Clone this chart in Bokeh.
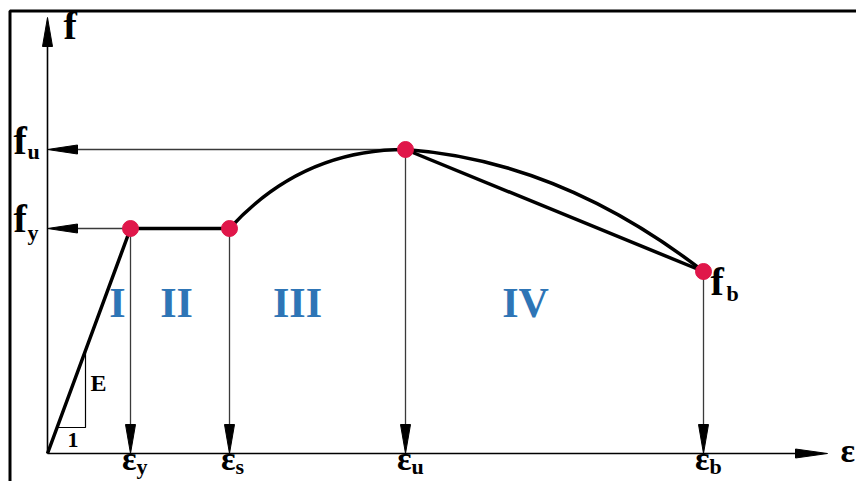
from bokeh.plotting import figure
from bokeh.models import Range1d
from bokeh.core.properties import value
from bokeh.embed import file_html
from bokeh.resources import INLINE

# Characteristic strains and stresses of the idealised stress-strain curve
eps_names = ["y", "s", "u", "b"]
eps_vals = [83, 182, 358, 656]          # eps_y, eps_s, eps_u, eps_b
f_y = 225
f_u = 304
f_b = 182
eps_axis_max = 780
f_axis_max = 436

# Control points of the hardening (III) and softening (IV) branches
hard_ctrl = (254, 304)
soft_ctrl = (513, 293)

# Stage labels and their anchors
stage_labels = ["I", "II", "III", "IV"]
stage_x = [70, 129, 250, 478]
stage_y = 128

SERIF = value("Liberation Serif")
INK = "#000000"
GUIDE = "#3a3a3a"
DOT = "#e0174a"
BLUE = "#2e75b6"

p = figure(width=856, height=481, output_backend="svg", toolbar_location=None,
           x_range=Range1d(-47, 809), y_range=Range1d(-28, 453),
           min_border=0, outline_line_color=None)
p.axis.visible = False
p.grid.visible = False
p.background_fill_color = "white"
p.border_fill_color = "white"

eps_y, eps_s, eps_u, eps_b = eps_vals

# outer frame
p.line([-37.5, -37.5, 820], [-40, 442.5, 442.5], line_color=INK, line_width=3)

# axes
p.line([0, 0], [0, f_axis_max - 20], line_color=INK, line_width=1.6)
p.line([0, eps_axis_max - 20], [0, 0], line_color=INK, line_width=1.6)
p.patch([0, -5, 5], [f_axis_max, f_axis_max - 29, f_axis_max - 29], color=INK)
p.patch([eps_axis_max, eps_axis_max - 32, eps_axis_max - 32], [0, 4.5, -4.5], color=INK)

# guide lines from the key points to the axes
guide_pts = [(eps_y, f_y), (eps_s, f_y), (eps_u, f_u), (eps_b, f_b)]
for ex, fy in guide_pts:
    p.line([ex, ex], [fy, 10], line_color=GUIDE, line_width=1.3)
    p.patch([ex, ex - 5, ex + 5], [0, 29, 29], color=INK)
for ex, fy in [(eps_y, f_y), (eps_u, f_u)]:
    p.line([ex, 10], [fy, fy], line_color=GUIDE, line_width=1.3)
    p.patch([0, 30, 30], [fy, fy + 4.5, fy - 4.5], color=INK)

# elastic slope triangle
slope = f_y / eps_y
tri_y0 = 26
tri_x1 = 38
p.line([tri_y0 / slope, tri_x1, tri_x1], [tri_y0, tri_y0, slope * tri_x1],
       line_color=INK, line_width=1.2)

# stress-strain curve
p.line([0, eps_y, eps_s], [0, f_y, f_y], line_color=INK, line_width=3.5,
       line_join="round")
p.quadratic(x0=[eps_s], y0=[f_y], x1=[eps_u], y1=[f_u],
            cx=[hard_ctrl[0]], cy=[hard_ctrl[1]], line_color=INK, line_width=3.5)
p.quadratic(x0=[eps_u], y0=[f_u], x1=[eps_b], y1=[f_b],
            cx=[soft_ctrl[0]], cy=[soft_ctrl[1]], line_color=INK, line_width=3.5)
p.line([eps_u, eps_b], [f_u, f_b], line_color=INK, line_width=3.5)

# key points
p.scatter([eps_y, eps_s, eps_u, eps_b], [f_y, f_y, f_u, f_b], size=16,
          fill_color=DOT, line_color=DOT)

# axis symbols
p.text(x=[16], y=[406], text=["f"], text_font=SERIF, text_font_style="bold",
       text_font_size="40px", text_color=INK)
p.text(x=[793], y=[-15], text=["ε"], text_font=SERIF, text_font_style="bold",
       text_font_size="34px", text_color=INK)

# stress labels
p.text(x=[-34, -34, eps_b + 7], y=[f_u - 13, f_y - 12, f_b - 32],
       text=["f", "f", "f"], text_font=SERIF, text_font_style="bold",
       text_font_size="40px", text_color=INK)
p.text(x=[-20, -20, eps_b + 23], y=[f_u - 14, f_y - 16, f_b - 34],
       text=["u", "y", "b"], text_font=SERIF, text_font_style="bold",
       text_font_size="22px", text_color=INK)

# strain labels
p.text(x=[e + 6 for e in eps_vals], y=[-23] * 4, text=["ε"] * 4,
       text_font=SERIF, text_font_style="bold", text_font_size="34px",
       text_align="right", text_color=INK)
p.text(x=[e + 6 for e in eps_vals], y=[-25] * 4, text=eps_names,
       text_font=SERIF, text_font_style="bold", text_font_size="22px",
       text_color=INK)

# slope labels
p.text(x=[43], y=[58], text=["E"], text_font=SERIF, text_font_style="bold",
       text_font_size="24px", text_color=INK)
p.text(x=[20], y=[7], text=["1"], text_font=SERIF, text_font_style="bold",
       text_font_size="22px", text_color=INK)

# stage labels
p.text(x=stage_x, y=[stage_y] * 4, text=stage_labels, text_font=SERIF,
       text_font_style="bold", text_font_size="42px", text_align="center",
       text_color=BLUE)

open("out.html", "w").write(file_html(p, INLINE))
